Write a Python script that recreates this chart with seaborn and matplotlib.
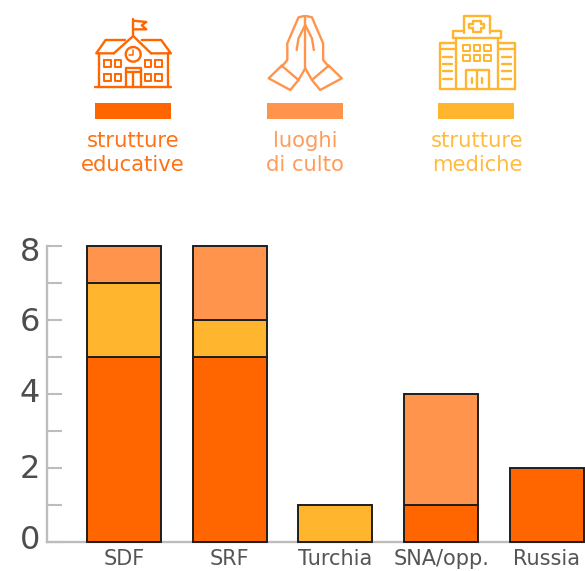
import matplotlib
matplotlib.use("Agg")
import matplotlib.pyplot as plt
from matplotlib.patches import Ellipse, Rectangle
from matplotlib.transforms import ScaledTranslation
import pandas as pd
import seaborn as sns

categories = ["SDF", "SRF", "Turchia", "SNA/opp.", "Russia"]
educative = [5, 5, 0, 1, 2]
mediche = [2, 1, 1, 0, 0]
culto = [1, 2, 0, 3, 0]
y_ticks = [0, 2, 4, 6, 8]
y_minor = [1, 3, 5, 7]
legend_lines = [["strutture", "educative"], ["luoghi", "di culto"], ["strutture", "mediche"]]
ORANGE, PEACH, AMBER = "#FF6600", "#FF944D", "#FFB52E"
W, H = 585, 571

sns.set_theme(style="white")
plt.rcParams["font.family"] = ["DejaVu Sans"]
fig = plt.figure(figsize=(W / 100, H / 100), dpi=100)
ax = fig.add_axes([47 / W, 1 - 541.7 / H, (W - 47) / W, (541.7 - 246) / H])

df = pd.DataFrame({"cat": categories, "edu": educative, "med": mediche, "cul": culto})
bottom = pd.Series(0, index=df.index)
for col, color in [("edu", ORANGE), ("med", AMBER), ("cul", PEACH)]:
    sub = df[df[col] > 0]
    sns.barplot(x=sub["cat"], y=sub[col], order=categories, color=color, saturation=1,
                width=0.70, bottom=bottom[sub.index].values, edgecolor="#1E1E1E",
                linewidth=1.4, ax=ax, clip_on=False, zorder=3, errorbar=None)
    bottom = bottom + df[col]

ax.set_xlim(-0.728, 4.36)
ax.set_ylim(0, 8)
ax.set_xlabel("")
ax.set_ylabel("")
sns.despine(ax=ax)
for side in ("left", "bottom"):
    ax.spines[side].set_color("#BDBDBD")
    ax.spines[side].set_linewidth(1.7)
ax.set_yticks(y_ticks)
ax.set_yticks(y_minor, minor=True)
ax.tick_params(axis="y", which="both", direction="in", length=11, width=1.5, color="#BDBDBD",
               left=True, labelsize=23, labelcolor="#4D4D4D", pad=5)
ax.tick_params(axis="x", length=0, labelsize=15, labelcolor="#555555", pad=5.2)
shifts = {0: -4.5, 2: -1.5, 4: -3.5, 6: -1, 8: 3}
for tick, lab in zip(y_ticks, ax.get_yticklabels()):
    lab.set_transform(lab.get_transform() + ScaledTranslation(0, shifts[tick] * -0.72 / 72, fig.dpi_scale_trans))

# Pictogram layer in pixel space
ov = fig.add_axes([0, 0, 1, 1], zorder=5)
ov.set_xlim(0, W)
ov.set_ylim(H, 0)
ov.axis("off")
SX, SY = 1 / 2.68, 1 / 3


def pl(color, *pts, lw=1.7):
    ov.plot([p[0] * SX for p in pts], [p[1] * SY for p in pts], color=color, lw=lw,
            solid_capstyle="round", solid_joinstyle="round")


def box(color, x0, y0, x1, y1, lw=1.4):
    pl(color, (x0, y0), (x1, y0), (x1, y1), (x0, y1), (x0, y0), lw=lw)


# School
c = ORANGE
pl(c, (357, 105), (357, 58))
pl(c, (357, 62), (392, 66), (380, 76), (392, 88), (357, 88))
pl(c, (305, 160), (258, 160), (283, 120), (335, 120))
pl(c, (380, 120), (432, 120), (458, 160), (405, 160))
pl(c, (305, 160), (357, 108), (405, 160))
pl(c, (265, 160), (265, 262))
pl(c, (450, 160), (450, 262))
pl(c, (255, 262), (458, 262))
ov.add_patch(Ellipse((357 * SX, 163 * SY), 40 * SX, 44 * SY, fill=False, ec=c, lw=1.7))
pl(c, (357, 150), (357, 165), (345, 165), lw=1.1)
for x in (280, 307, 388, 415):
    for y in (180, 222):
        box(c, x, y, x + 18, y + 22)
pl(c, (338, 262), (338, 205), (378, 205), (378, 262))
pl(c, (338, 217), (378, 217))
pl(c, (357, 217), (357, 262))

# Praying hands
c = PEACH
for m in (1, -1):
    f = lambda x: 818 + m * (x - 818)
    pl(c, (f(815), 48), (f(800), 52), (f(770), 130), (f(770), 180), (f(755), 200))
    pl(c, (f(755), 197), (f(720), 235), (f(778), 270), (f(800), 240), (f(755), 197))
    pl(c, (f(800), 240), (f(818), 205))
    pl(c, (f(818), 75), (f(800), 115), (f(795), 150))
pl(c, (818, 48), (818, 205))

# Hospital
c = AMBER
pl(c, (1243, 100), (1243, 48), (1313, 48), (1313, 100))
pl(c, (1268, 62), (1288, 62), (1288, 72), (1298, 72), (1298, 85), (1288, 85), (1288, 97),
   (1268, 97), (1268, 85), (1258, 85), (1258, 72), (1268, 72), (1268, 62))
pl(c, (1243, 92), (1215, 92), (1215, 115), (1343, 115), (1343, 92), (1313, 92))
pl(c, (1222, 115), (1222, 268))
pl(c, (1335, 115), (1335, 268))
pl(c, (1178, 268), (1178, 128), (1222, 128))
pl(c, (1335, 128), (1380, 128), (1380, 268))
pl(c, (1178, 268), (1380, 268))
pl(c, (1178, 148), (1222, 148))
pl(c, (1335, 148), (1380, 148))
for x in (1241, 1269, 1297):
    for y in (135, 164):
        box(c, x, y, x + 18, y + 18)
pl(c, (1248, 268), (1248, 210), (1310, 210), (1310, 268))
pl(c, (1279, 210), (1279, 268))
pl(c, (1265, 235), (1265, 250))
pl(c, (1293, 235), (1293, 250))
for y in (170, 192, 214, 236):
    pl(c, (1187, y), (1212, y))
    pl(c, (1346, y), (1370, y))

# Colour keys
for x0, cx, color, lines in zip((95, 267, 438), (133, 305, 477), (ORANGE, PEACH, AMBER), legend_lines):
    ov.add_patch(Rectangle((x0, 103), 76, 16, fc=color, ec="none"))
    for yy, s in zip((141, 165), lines):
        ov.text(cx, yy, s, color=color, ha="center", va="center", fontsize=15.2, alpha=0.92)

fig.savefig("out.png", dpi=100)
